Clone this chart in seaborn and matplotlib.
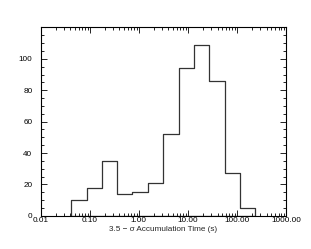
import numpy as np
import pandas as pd
import matplotlib
matplotlib.use("Agg")
import matplotlib.pyplot as plt
import matplotlib.ticker as mticker
import seaborn as sns

# Data
bin_edges = [0.042, 0.087, 0.175, 0.36, 0.74, 1.52, 3.16, 6.5, 13.3, 27.4, 57.0, 116.0, 237.0]
counts = [10, 18, 35, 14, 15, 21, 52, 94, 109, 86, 27, 5]
x_ticks = [0.01, 0.1, 1, 10, 100, 1000]
x_tick_labels = ["0.01", "0.10", "1.00", "10.00", "100.00", "1000.00"]
y_ticks = [0, 20, 40, 60, 80, 100]

sns.set_style("ticks")
plt.rcParams['font.family'] = ['Liberation Sans', 'DejaVu Sans']

centers = [np.sqrt(bin_edges[i] * bin_edges[i + 1]) for i in range(len(counts))]
df = pd.DataFrame({"t": centers, "n": counts})

fig = plt.figure(figsize=(3.11, 2.49), dpi=100)
ax = fig.add_axes([0.131, 0.133, 0.789, 0.757])

sns.histplot(data=df, x="t", weights="n", bins=bin_edges, element="step",
             fill=True, color="#333333", linewidth=0.9, ax=ax)
for coll in ax.collections:
    coll.set_facecolor("none")
    coll.set_edgecolor("#333333")
    coll.set_linewidth(0.9)

ax.set_xscale("log")
ax.set_xlim(0.01, 1000)
ax.set_ylim(0, 120)
ax.set_xticks(x_ticks)
ax.set_xticklabels(x_tick_labels)
ax.xaxis.set_minor_locator(mticker.LogLocator(base=10, subs=np.arange(2, 10), numticks=20))
ax.xaxis.set_minor_formatter(mticker.NullFormatter())
ax.set_yticks(y_ticks)
ax.yaxis.set_minor_locator(mticker.MultipleLocator(5))

for s in ax.spines.values():
    s.set_linewidth(0.8)
    s.set_color("black")
    s.set_visible(True)
    s.set_zorder(5)

ax.tick_params(which="both", direction="in", top=True, right=True, labelsize=5.9, width=0.6, colors="black")
ax.tick_params(which="major", length=4)
ax.tick_params(which="minor", length=2)
ax.tick_params(axis="x", pad=1.0)
ax.tick_params(axis="y", pad=6)

ax.set_xlabel("3.5 \u2212 \u03c3 Accumulation Time (s)", fontsize=5.9, labelpad=1)
ax.set_ylabel("")

fig.savefig("out.png", dpi=100)
